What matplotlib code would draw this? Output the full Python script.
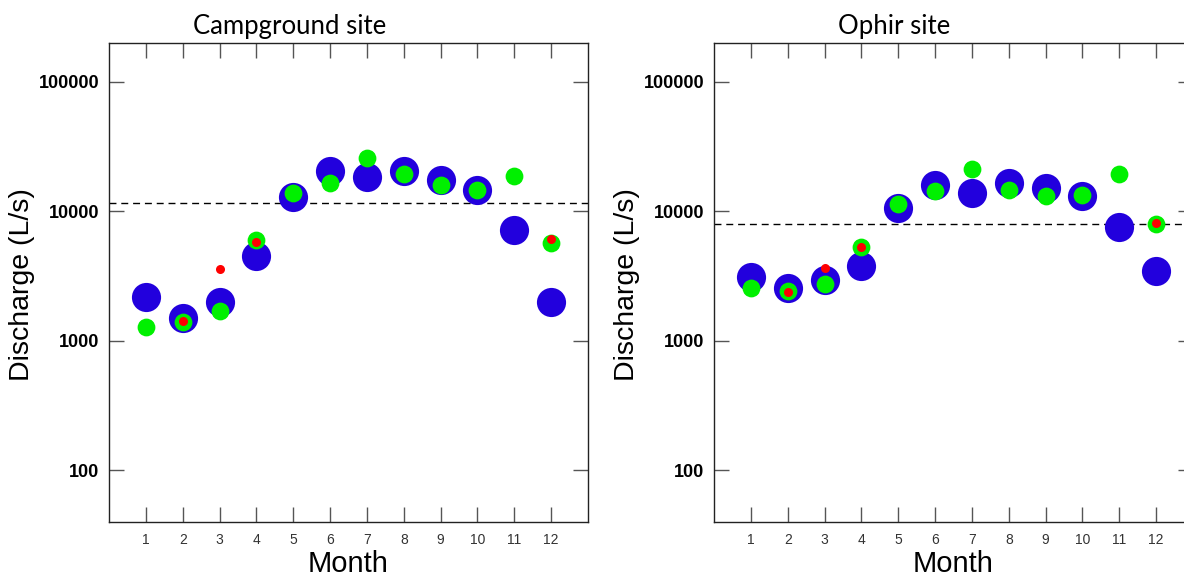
import matplotlib

matplotlib.use("Agg")

import matplotlib.pyplot as plt

plt.rcParams["font.family"] = ["Liberation Sans", "DejaVu Sans"]

months = list(range(1, 13))

# Campground site
camp_blue = [2200, 1500, 1990, 4540, 13000, 20600, 18300, 20500, 17400, 14700, 7200, 1990]
camp_green = [1290, 1400, 1690, 5970, 14000, 16700, 25900, 19500, 15900, 14700, 18700, 5750]
camp_red_months = [2, 3, 4, 12]
camp_red = [1430, 3580, 5850, 6150]
camp_ref = 11600

# Ophir site
ophir_blue = [3140, 2560, 2970, 3820, 10600, 16100, 13900, 16700, 15200, 13200, 7650, 3500]
ophir_green = [2560, 2450, 2750, 5310, 11400, 14300, 21300, 14700, 13200, 13400, 19500, 8000]
ophir_red_months = [2, 3, 4, 12]
ophir_red = [2380, 3650, 5280, 8180]
ophir_ref = 8000

titles = ["Campground site", "Ophir site"]

BLUE = "#2200DD"
GREEN = "#00F000"
RED = "#FF0000"
TICK = "#555555"

fig = plt.figure(figsize=(11.84, 5.77), dpi=100)
W, H = 1184, 577
positions = [
    [109 / W, 55 / H, 479 / W, 479 / H],
    [714 / W, 55 / H, 479 / W, 479 / H],
]

panels = [
    (camp_blue, camp_green, camp_red_months, camp_red, camp_ref),
    (ophir_blue, ophir_green, ophir_red_months, ophir_red, ophir_ref),
]

for pos, title, (blue, green, rmon, red, ref) in zip(positions, titles, panels):
    ax = fig.add_axes(pos)
    ax.set_yscale("log")
    ax.plot(months, blue, "o", color=BLUE, ms=21, mec="none", zorder=3)
    ax.plot(months, green, "o", color=GREEN, ms=12.8, mec="none", zorder=4)
    ax.plot(rmon, red, "o", color=RED, ms=6.5, mec="none", zorder=5)
    ax.axhline(ref, color="black", lw=1, ls=(0, (5, 3.5)), zorder=2)

    ax.set_xlim(0, 13)
    ax.set_ylim(40, 200000)
    ax.set_xticks(months)
    ax.set_xticklabels([str(m) for m in months])
    ax.set_yticks([100, 1000, 10000, 100000])
    ax.set_yticklabels(["100", "1000", "10000", "100000"])
    ax.minorticks_off()
    ax.tick_params(axis="both", direction="in", length=11, width=1, color=TICK,
                   top=True, right=True)
    ax.tick_params(axis="x", labelsize=10, labelcolor="#333333", pad=8)
    ax.tick_params(axis="y", labelsize=13, labelcolor="black", pad=7)
    for lab in ax.get_yticklabels():
        lab.set_fontweight("bold")
    for sp in ax.spines.values():
        sp.set_linewidth(1)
        sp.set_color("#222222")

    ax.set_xlabel("Month", fontsize=21, labelpad=2)
    ax.text(-0.182, 0.495, "Discharge (L/s)", transform=ax.transAxes, rotation=90,
            fontsize=20.5, ha="center", va="center")
    ax.text(0.377, 1.018, title, transform=ax.transAxes, fontsize=18.5,
            family="Lato", ha="center", va="baseline")

fig.savefig("out.png", dpi=100)
